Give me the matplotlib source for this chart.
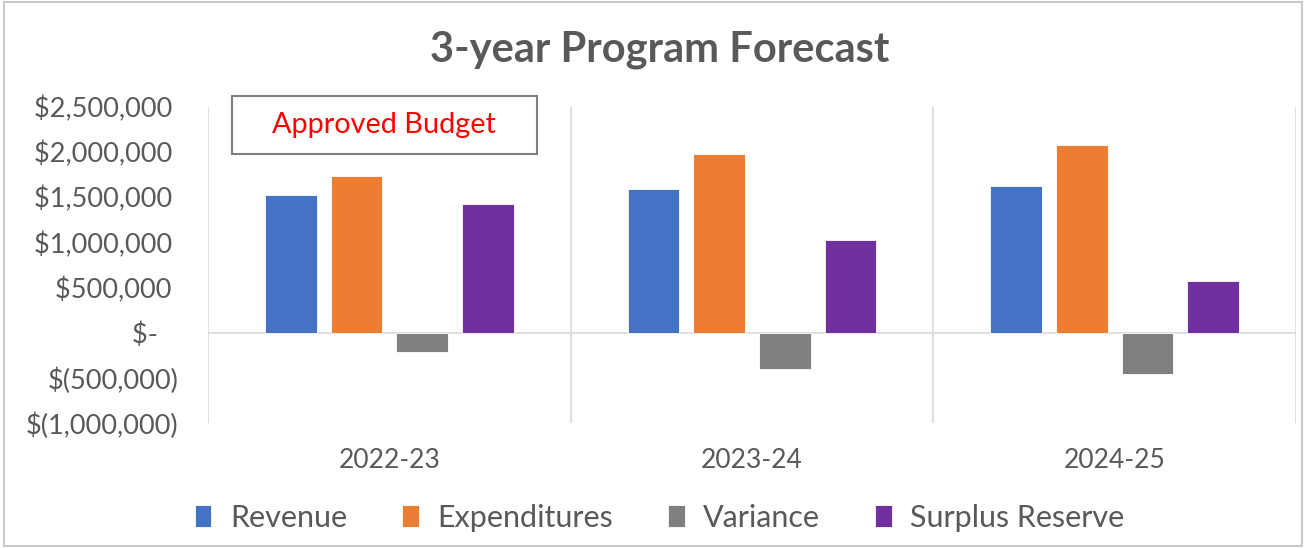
import matplotlib
matplotlib.use("Agg")
import matplotlib.pyplot as plt
import numpy as np
from matplotlib.patches import Rectangle

plt.rcParams['font.family'] = ['Lato', 'DejaVu Sans']

categories = ["2022-23", "2023-24", "2024-25"]
series_names = ["Revenue", "Expenditures", "Variance", "Surplus Reserve"]
revenue = [1524000, 1593000, 1620000]
expenditures = [1733000, 1982000, 2081000]
variance = [-215000, -399000, -454000]
surplus_reserve = [1428000, 1026000, 571000]
colors = ["#4472C4", "#ED7D31", "#7F7F7F", "#7030A0"]
yticks = [-1000000, -500000, 0, 500000, 1000000, 1500000, 2000000, 2500000]

def fmt(v):
    if v == 0:
        return "$-   "
    if v < 0:
        return "$({:,.0f})".format(-v)
    return "${:,.0f} ".format(v)

fig = plt.figure(figsize=(13.06, 5.48), dpi=100)
fig.patch.set_facecolor("white")
fig.add_artist(Rectangle((0.003, 0.004), 0.994, 0.993, transform=fig.transFigure,
                         fill=False, edgecolor="#BFBFBF", linewidth=1.2))

ax = fig.add_axes([208/1306, 1-423/548, (1296-208)/1306, (423-106.7)/548])
x = np.arange(len(categories))
width = 0.143
step = 0.181
data = [revenue, expenditures, variance, surplus_reserve]
handles = []
for i, (vals, c, name) in enumerate(zip(data, colors, series_names)):
    b = ax.bar(x + (i - 1.5) * step, vals, width, color=c, label=name,
               edgecolor="white", linewidth=0.6, zorder=3)
    handles.append(b)

ax.set_xlim(-0.5, 2.5)
ax.set_ylim(-1000000, 2500000)
for xv in [-0.5, 0.5, 1.5, 2.5]:
    ax.axvline(xv, color="#D9D9D9", linewidth=1.2, zorder=1)
ax.axhline(0, color="#D9D9D9", linewidth=1.2, zorder=2)
for s in ax.spines.values():
    s.set_visible(False)
ax.set_yticks(yticks)
ax.set_yticklabels([fmt(v) for v in yticks])
ax.set_xticks(x)
ax.set_xticklabels(categories)
ax.tick_params(axis="y", length=0, pad=21, labelsize=19.5, labelcolor="#595959")
ax.tick_params(axis="x", length=0, pad=18, labelsize=19, labelcolor="#595959")

fig.text(0.505, 0.909, "3-year Program Forecast", ha="center", va="center",
         fontsize=30, fontweight="bold", color="#595959")

ax.text(384/1306, 1-125/548, "Approved Budget", transform=fig.transFigure,
        ha="center", va="center", fontsize=20.8, color="#FF0000", zorder=5,
        bbox=dict(boxstyle="square,pad=0", facecolor="white", edgecolor="none"))
fig.add_artist(Rectangle((232/1306, 1-154/548), (537-232)/1306, (154-96)/548,
                         transform=fig.transFigure, facecolor="none",
                         edgecolor="#7F7F7F", linewidth=1.5))

leg = fig.legend(handles, series_names, loc="center", bbox_to_anchor=(0.505, 0.055),
                 ncol=4, frameon=False, fontsize=22, handlelength=0.55,
                 handleheight=0.7, handletextpad=0.6, columnspacing=1.8)
for t in leg.get_texts():
    t.set_color("#595959")

fig.savefig("out.png", dpi=100)
